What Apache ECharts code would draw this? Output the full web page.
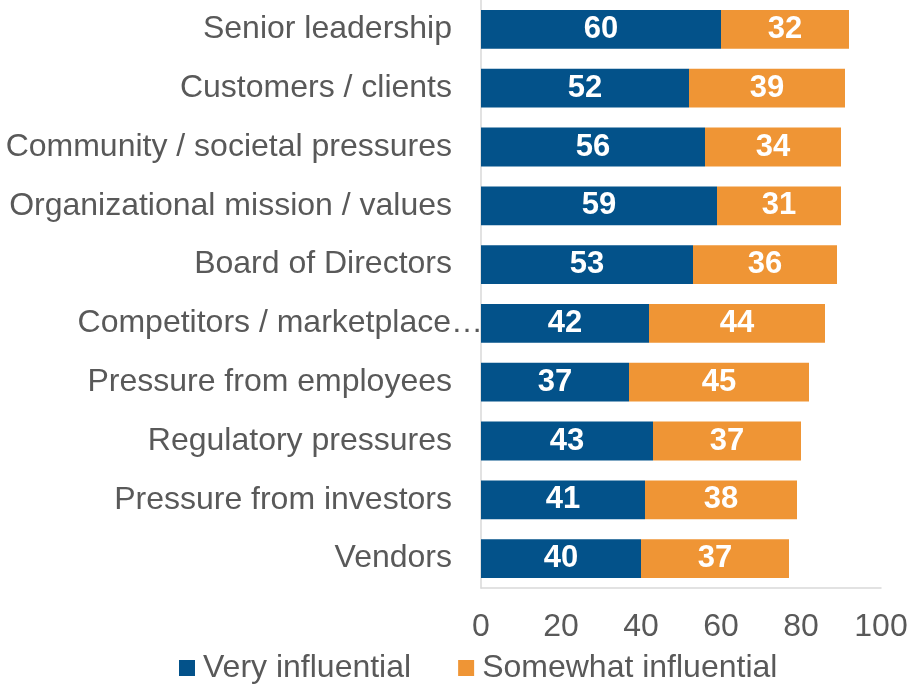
<!DOCTYPE html>
<html>
<head>
<meta charset="utf-8">
<script src="https://cdn.jsdelivr.net/npm/echarts@6/dist/echarts.min.js"></script>
<style>
  html,body{margin:0;padding:0;background:#fff;}
  #main{width:913px;height:685px;}
</style>
</head>
<body>
<div id="main"></div>
<script>
const categories=['Senior leadership','Customers / clients','Community / societal pressures','Organizational mission / values','Board of Directors','Competitors / marketplace…','Pressure from employees','Regulatory pressures','Pressure from investors','Vendors']
const veryInfluential=[60,52,56,59,53,42,37,43,41,40]
const somewhatInfluential=[32,39,34,31,36,44,45,37,38,37]
const xTicks={min:0,max:100,interval:20}

const myChart=echarts.init(document.querySelector('#main'))
const font='"Liberation Sans", Arial, sans-serif'
const barLabel={
  show:true,
  position:'inside',
  color:'#fff',
  fontWeight:'bold',
  fontSize:31,
  fontFamily:font
}
const option={
  animation:false,
  grid:{left:481,right:32,top:-3,bottom:97,containLabel:false},
  xAxis:{
    type:'value',
    min:xTicks.min,max:xTicks.max,interval:xTicks.interval,
    axisLine:{show:true,lineStyle:{color:'#d9d9d9',width:1.5}},
    axisTick:{show:false},
    splitLine:{show:false},
    axisLabel:{color:'#595959',fontSize:32,fontFamily:font,margin:23}
  },
  yAxis:{
    type:'category',
    inverse:true,
    data:categories,
    axisLine:{show:true,lineStyle:{color:'#d9d9d9',width:1.5}},
    axisTick:{show:false},
    axisLabel:{
      color:'#595959',fontSize:32,fontFamily:font,margin:29,
      // the truncated label runs past the others up to the axis
      formatter:function(v){return v.endsWith('…')?'{c|'+v+'}':v},
      rich:{c:{color:'#595959',fontSize:32,fontFamily:font,padding:[0,-31,0,0]}}
    }
  },
  legend:{
    bottom:-4,
    left:174,
    itemWidth:16,itemHeight:16,itemGap:47,
    icon:'rect',
    textStyle:{color:'#595959',fontSize:32,fontFamily:font,padding:[0,0,0,3]},
    data:['Very influential','Somewhat influential']
  },
  series:[
    {
      name:'Very influential',
      type:'bar',
      stack:'total',
      barWidth:'66%',
      itemStyle:{color:'#03528A'},
      label:barLabel,
      data:veryInfluential
    },
    {
      name:'Somewhat influential',
      type:'bar',
      stack:'total',
      barWidth:'66%',
      itemStyle:{color:'#EF9535'},
      label:barLabel,
      data:somewhatInfluential
    }
  ]
}
myChart.setOption(option)
</script>
</body>
</html>
